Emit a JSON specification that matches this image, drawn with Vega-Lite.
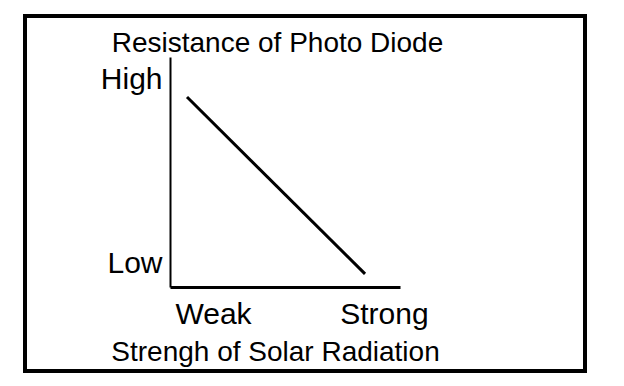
{
  "$schema": "https://vega.github.io/schema/vega-lite/v6.json",
  "width": 560,
  "height": 355,
  "autosize": "none",
  "padding": {"left": 25, "top": 16, "right": 39, "bottom": 15},
  "background": "white",
  "config": {
    "view": {"stroke": "black", "strokeWidth": 4},
    "font": "Liberation Sans"
  },
  "data": {
    "values": [
      {"strength": 0.074, "resistance": 0.826},
      {"strength": 0.848, "resistance": 0.057}
    ]
  },
  "mark": {"type": "line", "color": "black", "strokeWidth": 3},
  "encoding": {
    "x": {
      "field": "strength",
      "type": "quantitative",
      "scale": {"domain": [0, 1], "range": [145, 375], "nice": false, "zero": false},
      "axis": {
        "orient": "bottom",
        "offset": -84,
        "values": [0.187, 0.93],
        "labelExpr": "datum.value < 0.5 ? 'Weak' : 'Strong'",
        "ticks": false,
        "grid": false,
        "domainColor": "black",
        "domainWidth": 3,
        "labelFont": "Liberation Sans",
        "labelFontSize": 30,
        "labelColor": "black",
        "labelPadding": 12,
        "labelFlush": false,
        "labelOverlap": false,
        "title": "Strengh of Solar Radiation",
        "titleFont": "Liberation Sans",
        "titleFontSize": 28,
        "titleFontWeight": "normal",
        "titleColor": "black",
        "titleX": 250,
        "titleY": 73,
        "titleAlign": "center",
        "titleBaseline": "alphabetic"
      }
    },
    "y": {
      "field": "resistance",
      "type": "quantitative",
      "scale": {"domain": [0, 1], "range": [271, 41], "nice": false, "zero": false},
      "axis": {
        "orient": "left",
        "offset": -145,
        "values": [0.104, 0.904],
        "labelExpr": "datum.value > 0.5 ? 'High' : 'Low'",
        "ticks": false,
        "grid": false,
        "domainColor": "black",
        "domainWidth": 2,
        "labelFont": "Liberation Sans",
        "labelFontSize": 30,
        "labelColor": "black",
        "labelPadding": 8,
        "labelFlush": false,
        "labelOverlap": false,
        "title": "Resistance of Photo Diode",
        "titleFont": "Liberation Sans",
        "titleFontSize": 28,
        "titleFontWeight": "normal",
        "titleColor": "black",
        "titleAngle": 0,
        "titleX": 107,
        "titleY": 35,
        "titleAlign": "center",
        "titleBaseline": "alphabetic"
      }
    }
  }
}
